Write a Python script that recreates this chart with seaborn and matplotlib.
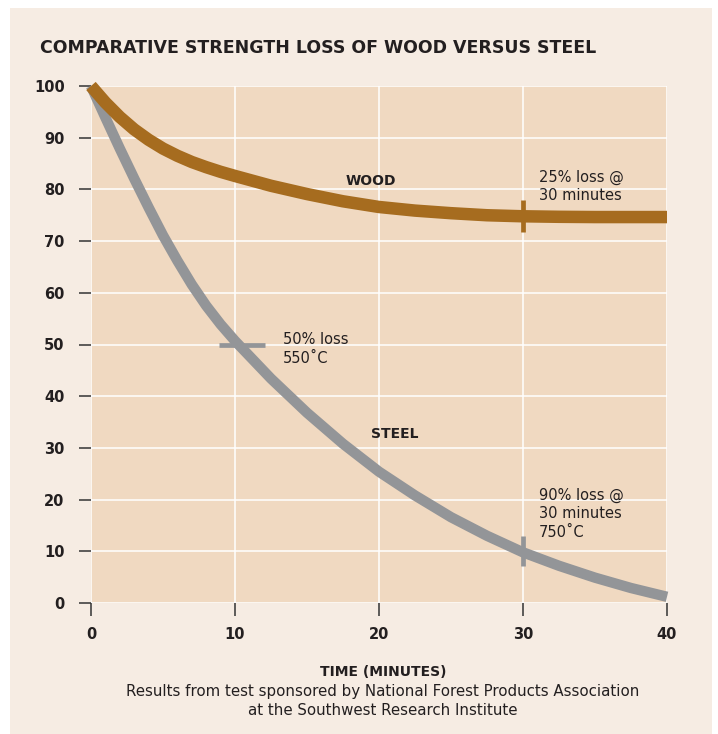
import seaborn as sns
import matplotlib.pyplot as plt
import matplotlib.patches as mpatches
import pandas as pd

minutes = [0, 1, 2, 3, 4, 5, 6, 7, 8, 9, 10, 12.5, 15, 17.5, 20, 22.5, 25, 27.5, 30,
           32.5, 35, 37.5, 40]
wood = [100, 96.8, 94.0, 91.6, 89.6, 87.9, 86.5, 85.3, 84.3, 83.4, 82.6, 80.7, 79.1, 77.7,
        76.6, 75.9, 75.4, 75.0, 74.8, 74.7, 74.65, 74.65, 74.65]
steel = [100, 93.9, 87.9, 82.1, 76.5, 71.1, 66.2, 61.6, 57.5, 53.9, 50.7, 43.4, 36.8, 30.8,
         25.4, 20.8, 16.6, 13.0, 9.8, 7.2, 4.9, 2.9, 1.2]

# marked points on the curves
wood_mark = (30, 74.8)
steel_mark_30 = (30, 10)
steel_mark_50 = (10.5, 50)

x_ticks = [0, 10, 20, 30, 40]
y_ticks = [0, 10, 20, 30, 40, 50, 60, 70, 80, 90, 100]

cream = "#f6ece3"
tan = "#f0d9c1"
wood_col = "#a66c1f"
steel_col = "#939598"
ink = "#231f20"

df = pd.DataFrame({"minutes": minutes * 2,
                   "strength": wood + steel,
                   "material": ["WOOD"] * len(wood) + ["STEEL"] * len(steel)})

sns.set_style("white")
plt.rcParams["font.family"] = ["DejaVu Sans"]

fig = plt.figure(figsize=(7.18, 7.34), dpi=100, facecolor="white")
fig.patches.append(mpatches.Rectangle((10 / 718, 0), 702 / 718, 726 / 734,
                                      transform=fig.transFigure, facecolor=cream,
                                      edgecolor="none", zorder=-10))
ax = fig.add_axes([91 / 718, 131 / 734, 576 / 718, 517 / 734])
ax.set_facecolor(tan)

sns.lineplot(data=df[df.material == "STEEL"], x="minutes", y="strength", color=steel_col,
             lw=7.5, ax=ax, solid_capstyle="butt", solid_joinstyle="round",
             clip_on=False, zorder=3)
sns.lineplot(data=df[df.material == "WOOD"], x="minutes", y="strength", color=wood_col,
             lw=9, ax=ax, solid_capstyle="butt", solid_joinstyle="round",
             clip_on=False, zorder=4)

ax.plot(*wood_mark, marker="|", ms=23, mew=3.4, color=wood_col, zorder=5)
ax.plot(*steel_mark_30, marker="|", ms=22, mew=3.4, color=steel_col, zorder=5)
ax.plot(*steel_mark_50, marker="_", ms=33, mew=3.4, color=steel_col, zorder=5)

ax.set_xlim(0, 40)
ax.set_ylim(0, 100)
ax.set_xticks(x_ticks)
ax.set_yticks(y_ticks)
ax.grid(True, color="white", lw=1.1)
ax.set_axisbelow(True)
for s in ax.spines.values():
    s.set_visible(False)
ax.tick_params(axis="both", which="both", length=9, width=1.1, color="#333333",
               labelsize=10.5, labelcolor=ink, left=True, bottom=True)
ax.tick_params(axis="y", pad=10)
ax.tick_params(axis="x", pad=8)
for lbl in ax.get_xticklabels() + ax.get_yticklabels():
    lbl.set_fontweight("bold")
ax.set_xlabel("")
ax.set_ylabel("")

ax.text(19.4, 81.7, "WOOD", fontsize=10, fontweight="bold", color=ink, ha="center", va="center")
ax.text(21.1, 32.7, "STEEL", fontsize=10, fontweight="bold", color=ink, ha="center", va="center")
ax.text(31.1, 80.6, "25% loss @\n30 minutes", fontsize=10.5, color=ink, va="center",
        linespacing=1.3)
ax.text(13.3, 49.1, "50% loss\n550˚C", fontsize=10.5, color=ink, va="center", linespacing=1.3)
ax.text(31.1, 17.3, "90% loss @\n30 minutes\n750˚C", fontsize=10.5, color=ink, va="center",
        linespacing=1.3)

fig.text(40 / 718, 1 - 48 / 734, "COMPARATIVE STRENGTH LOSS OF WOOD VERSUS STEEL",
         fontsize=12.5, fontweight="bold", color=ink, va="center", ha="left")
fig.text(383 / 718, 1 - 672 / 734, "TIME (MINUTES)", fontsize=10, fontweight="bold",
         color=ink, ha="center", va="center")
fig.text(383 / 718, 1 - 701 / 734,
         "Results from test sponsored by National Forest Products Association\n"
         "at the Southwest Research Institute",
         fontsize=10.8, color=ink, ha="center", va="center", linespacing=1.4)

fig.savefig("out.png", dpi=100, facecolor=fig.get_facecolor())
